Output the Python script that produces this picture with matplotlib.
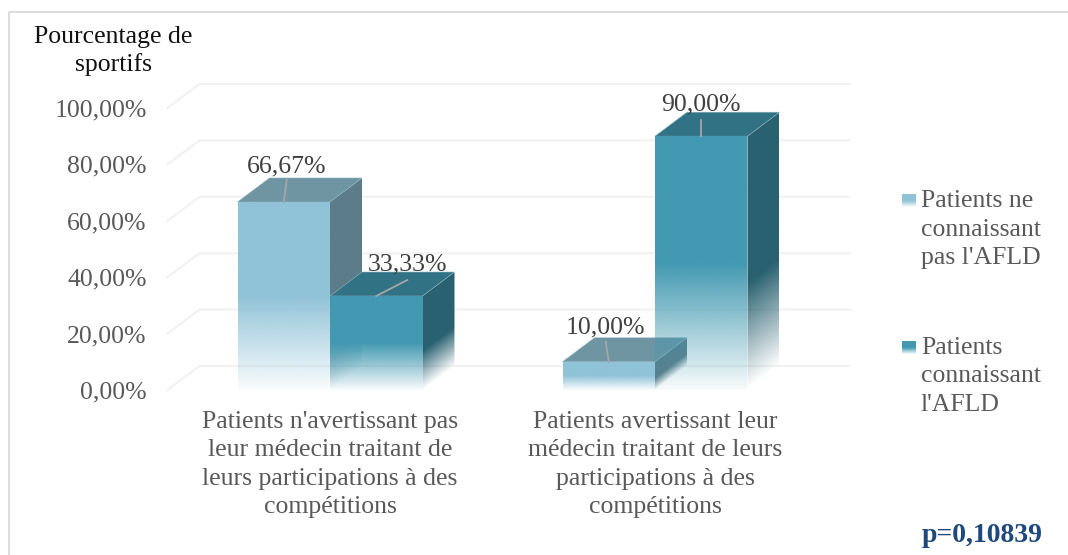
#!/usr/bin/python3

import numpy as np
import matplotlib
matplotlib.use('Agg')
import matplotlib.pyplot as plt
from matplotlib.colors import to_rgb
from matplotlib.patches import Polygon

categories = ["Patients n'avertissant pas\nleur médecin traitant de\nleurs participations à des\ncompétitions",
              "Patients avertissant leur\nmédecin traitant de leurs\nparticipations à des\ncompétitions"]
series_names = ["Patients ne\nconnaissant\npas l'AFLD", "Patients\nconnaissant\nl'AFLD"]
not_aware = [66.67, 10.00]
aware = [33.33, 90.00]
not_aware_labels = ['66,67%', '10,00%']
aware_labels = ['33,33%', '90,00%']
y_ticks = [0, 20, 40, 60, 80, 100]
y_tick_labels = ['0,00%', '20,00%', '40,00%', '60,00%', '80,00%', '100,00%']

FONT = 'Liberation Serif'
W, H = 1068, 555
PX_X = 325.0    # pixels per category
PX_Y = 2.82     # pixels per percent
BAR_W = 92.5 / PX_X
DX = 32 / PX_X
DY = 24 / PX_Y


def fade_image(ax, xs, ys, color, clip, alpha_fn):
    # paint a colour whose alpha varies, cut to the shape of the face
    xx, yy = np.meshgrid(np.linspace(xs[0], xs[1], 60), np.linspace(ys[0], ys[1], 200))
    img = np.zeros(xx.shape + (4,))
    img[..., :3] = to_rgb(color)
    img[..., 3] = alpha_fn(xx, yy)
    im = ax.imshow(img, extent=[xs[0], xs[1], ys[0], ys[1]], origin='lower',
                   aspect='auto', interpolation='bilinear', zorder=3, clip_on=True)
    patch = Polygon(clip, closed=True, transform=ax.transData, fc='none', ec='none')
    ax.add_patch(patch)
    im.set_clip_path(patch)


def draw_bar(ax, x0, val, front, top, side):
    x1 = x0 + BAR_W

    def front_alpha(xx, yy):
        return 0.04 + 0.96 * np.clip(yy / (val * 0.5), 0, 1)

    def side_alpha(xx, yy):
        base = (xx - x1) / DX * DY
        return 0.0 + np.clip((yy - base) / (val * 0.42), 0, 1)

    # side goes first, the front of the next bar fades over it
    side_pts = [(x1, 0), (x1 + DX, DY), (x1 + DX, val + DY), (x1, val)]
    fade_image(ax, (x1, x1 + DX), (0, val + DY), side, side_pts, side_alpha)
    top_pts = [(x0, val), (x0 + DX, val + DY), (x1 + DX, val + DY), (x1, val)]
    ax.add_patch(Polygon(top_pts, closed=True, fc=top, ec='#8fb4c0', lw=0.4, zorder=3))
    front_pts = [(x0, 0), (x1, 0), (x1, val), (x0, val)]
    fade_image(ax, (x0, x1), (0, val), front, front_pts, front_alpha)


fig = plt.figure(figsize=(W / 100, H / 100), dpi=100)
fig.patch.set_facecolor('white')
plt.rcParams['font.family'] = [FONT, 'DejaVu Serif']

ax_left = 167.5
ax_right = 850
ax_bottom = 390
ax_top = ax_bottom - (100 + DY) * PX_Y
ax = fig.add_axes([ax_left / W, 1 - ax_bottom / H, (ax_right - ax_left) / W, (ax_bottom - ax_top) / H])
ax.set_xlim(-0.5, -0.5 + (ax_right - ax_left) / PX_X)
ax.set_ylim(0, 100 + DY)
for s in ax.spines.values():
    s.set_visible(False)
ax.patch.set_alpha(0)

for v in y_ticks:
    ax.plot([-0.5, -0.5 + DX, ax.get_xlim()[1]], [v, v + DY, v + DY],
            color='#f2f2f2', lw=1.5, zorder=1, clip_on=False)

ax.set_yticks(y_ticks)
ax.set_yticklabels(y_tick_labels, fontsize=18.5, color='#595959', family=FONT)
ax.tick_params(axis='y', length=0, pad=15)
ax.set_xticks(range(len(categories)))
ax.set_xticklabels(categories, fontsize=18.5, color='#595959', family=FONT, linespacing=1.38)
ax.tick_params(axis='x', length=0, pad=15)

# leader offsets and label offsets in pixels from the bar front top centre
leader_not = [(3, 22), (-3, 20)]
leader_aw = [(31, 16), (0, 16)]
label_not = [(3, 36), (-3, 34)]
label_aw = [(31, 32), (0, 32)]

for i in range(len(categories)):
    for x0, val, txt, front, top, side, lead, lab in [
            (i - BAR_W, not_aware[i], not_aware_labels[i], '#90c3d8', '#6f95a3', '#5b7c88',
             leader_not[i], label_not[i]),
            (i, aware[i], aware_labels[i], '#4299b1', '#317385', '#296170',
             leader_aw[i], label_aw[i])]:
        draw_bar(ax, x0, val, front, top, side)
        cx = x0 + BAR_W / 2
        ax.plot([cx, cx + lead[0] / PX_X], [val, val + lead[1] / PX_Y], color='#a6a6a6', lw=1.3,
                zorder=4, clip_on=False)
        ax.text(cx + lab[0] / PX_X, val + lab[1] / PX_Y, txt, fontsize=18.5, color='#404040',
                ha='center', va='center', family=FONT, zorder=5, clip_on=False)

ax.set_xlim(-0.5, -0.5 + (ax_right - ax_left) / PX_X)
ax.set_ylim(0, 100 + DY)

# overlay in image pixels for the frame, legend and notes
ov = fig.add_axes([0, 0, 1, 1])
ov.set_xlim(0, W)
ov.set_ylim(H, 0)
ov.axis('off')
ov.patch.set_alpha(0)
ov.plot([9, 9, W], [H, 12, 12], color='#dcdcdc', lw=1.5)

ov.text(113, 51, 'Pourcentage de\nsportifs', fontsize=18.5, color='#111111', ha='center', va='center',
        linespacing=1.32)
ov.text(982, 535, 'p=0,10839', fontsize=20, color='#1f497d', fontweight='bold', ha='center', va='center')

legend_y = [194, 341]
legend_mid = [229.5, 376.5]
legend_front = ['#90c3d8', '#4299b1']
for y0, ym, name, c in zip(legend_y, legend_mid, series_names, legend_front):
    grad = np.zeros((40, 1, 4))
    grad[..., :3] = to_rgb(c)
    grad[..., 3] = (0.04 + 0.96 * np.clip(np.linspace(0, 2, 40), 0, 1)).reshape(-1, 1)
    ov.imshow(grad, extent=[902, 916, y0 + 13, y0], aspect='auto', origin='lower', interpolation='bilinear')
    ov.text(921, ym, name, fontsize=18.5, color='#595959', ha='left', va='center', linespacing=1.36)
ov.set_xlim(0, W)
ov.set_ylim(H, 0)

fig.savefig('out.png', dpi=100)
